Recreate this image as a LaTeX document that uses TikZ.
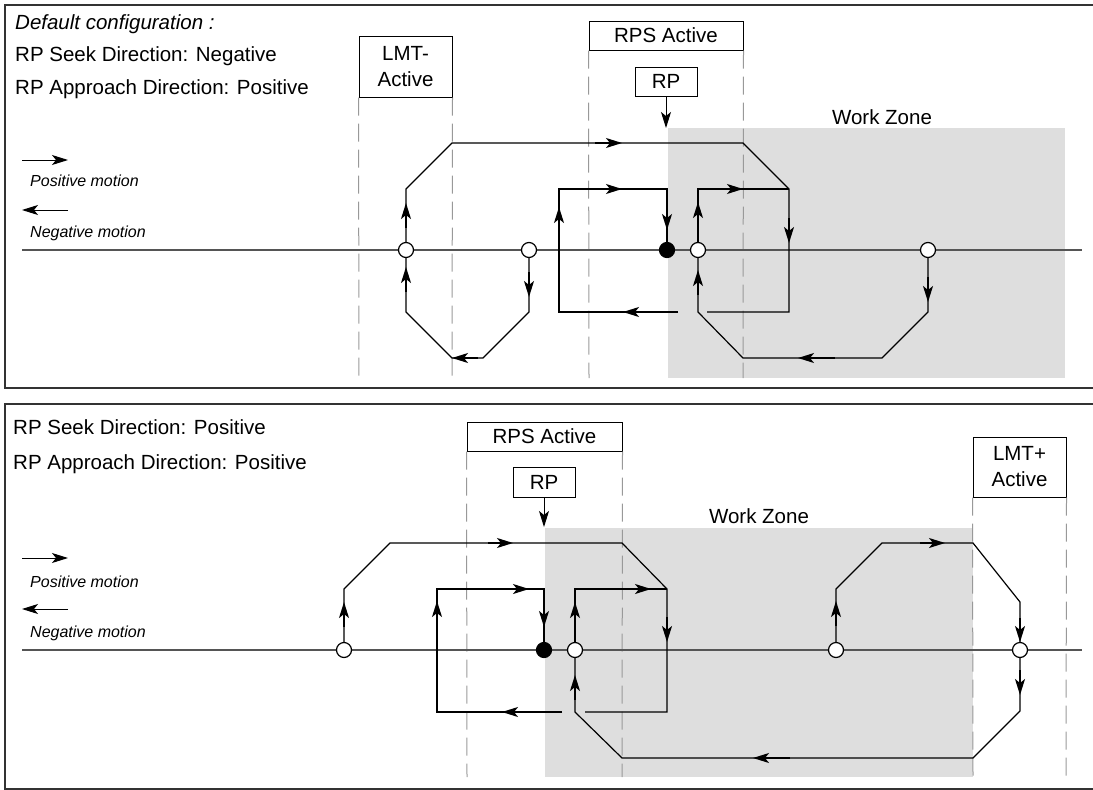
\documentclass[tikz,border=0pt]{standalone}
\usepackage{fontspec}
\usepackage{xcolor}
\usepackage{tikz}
\usetikzlibrary{arrows.meta}
\setmainfont{Liberation Sans}
\definecolor{zonegray}{HTML}{DEDEDE}
\definecolor{guidegray}{HTML}{999999}
\definecolor{axisgray}{HTML}{555555}
\definecolor{framegray}{HTML}{333333}

\begin{document}
\begin{tikzpicture}[x=1pt,y=-1pt,
  frame/.style={draw=framegray,line width=1.6pt},
  axis/.style={draw=axisgray,line width=1.4pt},
  guide/.style={draw=guidegray,line width=1pt,dash pattern=on 18pt off 8pt},
  lbl/.style={rectangle,draw,line width=1pt,inner sep=0pt,
    align=center,font=\fontsize{20.5}{26}\selectfont},
  txt/.style={anchor=base west,inner sep=0pt,font=\fontsize{20.5}{24}\selectfont},
  legend/.style={anchor=base west,inner sep=0pt,
    font=\fontsize{16}{19}\selectfont\itshape},
  trace/.style={draw,line width=1.2pt},
  arr/.style={line width=1.6pt,-{Stealth[length=16pt,width=10pt,inset=4pt]}},
  hit/.style={circle,draw,line width=1.2pt,fill=white,minimum size=15pt,inner sep=0pt},
  refdot/.style={circle,draw,line width=1.2pt,fill=black,minimum size=15pt,inner sep=0pt}]

  \useasboundingbox (0,0) rectangle (1093,790);

  % ---------- top panel: seek negative ----------
  \draw[frame] (1093,5) -- (5,5) -- (5,388) -- (1093,388);
  \fill[zonegray] (668,128) rectangle (1065,378);
  \node[inner sep=0pt,font=\fontsize{20.5}{24}\selectfont] (zoneA) at (882,117) {Work Zone};

  \node[txt] (cfgA) at (15,29) {\itshape Default configuration :};
  \node[txt] (seekA) at (15,61) {RP Seek Direction: Negative};
  \node[txt] (apprA) at (15,94) {RP Approach Direction: Positive};

  \coordinate (posA1) at (22,160);
  \coordinate (posA2) at (68,160);
  \coordinate (negA1) at (68,210);
  \coordinate (negA2) at (22,210);
  \draw[arr,line width=1pt] (posA1) -- (posA2);
  \draw[arr,line width=1pt] (negA1) -- (negA2);
  \node[legend] (posTxtA) at (30,186) {Positive motion};
  \node[legend] (negTxtA) at (30,237) {Negative motion};

  \node[lbl,minimum width=93pt,minimum height=61pt] (lmtA) at (405.5,66.5) {LMT-\\Active};
  \node[lbl,minimum width=154pt,minimum height=29pt] (rpsA) at (666,35.5) {RPS Active};
  \node[lbl,minimum width=62pt,minimum height=29pt] (rplA) at (666,81.5) {RP};

  \draw[guide] (lmtA.south west) -- (359,378);
  \draw[guide] (lmtA.south east) -- (452,378);
  \draw[guide] (rpsA.south west) -- (589,378);
  \draw[guide] (rpsA.south east) -- (743,378);

  \draw[axis] (22,250) -- (1082,250);

  \node[hit] (lmtStopA) at (406,250) {};
  \node[hit] (revA) at (529,250) {};
  \node[refdot] (rpA) at (667,250) {};
  \node[hit] (idxA) at (698,250) {};
  \node[hit] (endA) at (928,250) {};

  \draw[arr,line width=1pt] (rplA.south) -- (666,128);

  \draw[trace] (revA.south) -- (529,312) -- (483,358) -- (452,358) -- (406,312) -- (lmtStopA.south);
  \draw[trace] (lmtStopA.north) -- (406,189) -- (452,143) -- (743,143) -- (789,189) -- (789,312) -- (707,312);
  \draw[trace] (678,312) -- (559,312) -- (559,189) -- (667,189) -- (rpA.north);
  \draw[trace] (idxA.north) -- (698,189) -- (789,189);
  \draw[trace] (endA.south) -- (928,312) -- (882,358) -- (743,358) -- (698,312) -- (idxA.south);

  \draw[arr] (406,228) -- (406,203);
  \draw[arr] (406,292) -- (406,267);
  \draw[arr] (595,143) -- (622,143);
  \draw[arr] (529,272) -- (529,297);
  \draw[arr] (478,358) -- (452,358);
  \draw[arr] (559,232) -- (559,207);
  \draw[arr] (597,189) -- (622,189);
  \draw[arr] (667,205) -- (667,230);
  \draw[arr] (650,312) -- (623,312);
  \draw[arr] (698,227) -- (698,202);
  \draw[arr] (698,295) -- (698,270);
  \draw[arr] (718,189) -- (743,189);
  \draw[arr] (789,218) -- (789,243);
  \draw[arr] (928,277) -- (928,302);
  \draw[arr] (835,358) -- (798,358);

  % ---------- bottom panel: seek positive ----------
  \draw[frame] (1093,404) -- (5,404) -- (5,789) -- (1093,789);
  \fill[zonegray] (545,528) rectangle (973,777);
  \node[inner sep=0pt,font=\fontsize{20.5}{24}\selectfont] (zoneB) at (759,516) {Work Zone};

  \node[txt] (seekB) at (13,434) {RP Seek Direction: Positive};
  \node[txt] (apprB) at (13,469) {RP Approach Direction: Positive};

  \coordinate (posB1) at (22,558);
  \coordinate (posB2) at (68,558);
  \coordinate (negB1) at (68,609);
  \coordinate (negB2) at (22,609);
  \draw[arr,line width=1pt] (posB1) -- (posB2);
  \draw[arr,line width=1pt] (negB1) -- (negB2);
  \node[legend] (posTxtB) at (30,587) {Positive motion};
  \node[legend] (negTxtB) at (30,637) {Negative motion};

  \node[lbl,minimum width=155pt,minimum height=29pt] (rpsB) at (544.5,436.5) {RPS Active};
  \node[lbl,minimum width=62pt,minimum height=30pt] (rplB) at (544,482) {RP};
  \node[lbl,minimum width=93pt,minimum height=60pt] (lmtB) at (1019.5,467) {LMT+\\Active};

  \draw[guide] (rpsB.south west) -- (467,777);
  \draw[guide] (rpsB.south east) -- (622,777);
  \draw[guide] (lmtB.south west) -- (973,777);
  \draw[guide] (lmtB.south east) -- (1066,777);

  \draw[axis] (22,650) -- (1082,650);

  \node[hit] (startB) at (344,650) {};
  \node[refdot] (rpB) at (544,650) {};
  \node[hit] (idxB) at (575,650) {};
  \node[hit] (midB) at (836,650) {};
  \node[hit] (lmtStopB) at (1020,650) {};

  \draw[arr,line width=1pt] (rplB.south) -- (544,527);

  \draw[trace] (startB.north) -- (344,589) -- (390,543) -- (622,543) -- (667,589) -- (667,712) -- (585,712);
  \draw[trace] (562,712) -- (437,712) -- (437,589) -- (544,589) -- (rpB.north);
  \draw[trace] (idxB.north) -- (575,589) -- (667,589);
  \draw[trace] (midB.north) -- (836,589) -- (882,543) -- (973,543) -- (1020,602) -- (lmtStopB.north);
  \draw[trace] (lmtStopB.south) -- (1020,711) -- (973,758) -- (622,758) -- (575,712) -- (idxB.south);

  \draw[arr] (344,627) -- (344,602);
  \draw[arr] (488,543) -- (513,543);
  \draw[arr] (667,617) -- (667,642);
  \draw[arr] (527,712) -- (502,712);
  \draw[arr] (437,626) -- (437,601);
  \draw[arr] (504,589) -- (529,589);
  \draw[arr] (544,602) -- (544,627);
  \draw[arr] (575,627) -- (575,602);
  \draw[arr] (626,589) -- (651,589);
  \draw[arr] (575,700) -- (575,675);
  \draw[arr] (836,626) -- (836,601);
  \draw[arr] (920,543) -- (945,543);
  \draw[arr] (1020,618) -- (1020,642);
  \draw[arr] (1020,670) -- (1020,695);
  \draw[arr] (790,758) -- (753,758);
\end{tikzpicture}
\end{document}
